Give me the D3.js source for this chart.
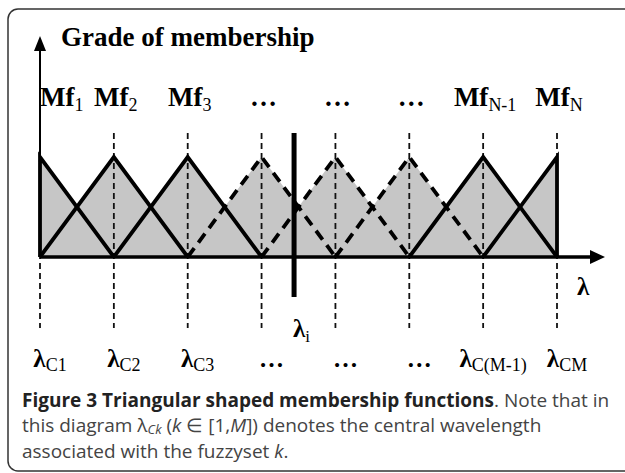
<!DOCTYPE html>
<html>
<head>
<meta charset="utf-8">
<script src="https://cdn.jsdelivr.net/npm/d3@7"></script>
<style>
  body { margin: 0; background: #fff; }
  svg text { font-family: "Liberation Serif", "Times New Roman", serif; }
  .cap { font-family: "Open Sans", sans-serif; }
</style>
</head>
<body>
<div id="chart"></div>
<script>
var width = 625;
var height = 473;

// membership functions, one per center wavelength
var mfNames = ["Mf", "Mf", "Mf", "…", "…", "…", "Mf", "Mf"];
var mfSubs = ["1", "2", "3", "", "", "", "N-1", "N"];
var centerNames = ["λ", "λ", "λ", "…", "…", "…", "λ", "λ"];
var centerSubs = ["C1", "C2", "C3", "", "", "", "C(M-1)", "CM"];
var lineStyle = ["solid", "solid", "solid", "dashed", "dashed", "dashed", "solid", "solid"];
var peakGrade = [1, 1, 1, 1, 1, 1, 1, 1];
var lambdaI = 3.44;   // position of the measured wavelength, in center units

var svg = d3.select("#chart")
            .append("svg")
            .attr("width", width)
            .attr("height", height);

var x = d3.scaleLinear().domain([0, mfNames.length - 1]).range([40, 557]);
var y = d3.scaleLinear().domain([0, 1]).range([257, 157]);

// frame
svg.append("rect")
   .attr("x", 8).attr("y", 9)
   .attr("width", 660).attr("height", 462)
   .attr("rx", 10)
   .attr("fill", "none")
   .attr("stroke", "#333")
   .attr("stroke-width", 1.5);

function tri(k, t) {
  var v = peakGrade[k] * (1 - Math.abs(t - k));
  return v > 0 ? v : 0;
}

// union of all triangles, filled gray
var pts = d3.range(0, mfNames.length - 0.5, 0.5).map(function(t) {
  return [t, d3.max(peakGrade, function(p, k) { return tri(k, t); })];
});
pts.push([mfNames.length - 1, 1]);
svg.append("path")
   .datum(pts)
   .attr("fill", "#c6c6c6")
   .attr("d", d3.area()
      .x(function(d) { return x(d[0]); })
      .y0(y(0))
      .y1(function(d) { return y(d[1]); }));

// thin dashed drop lines at each center
var grupo_centros = svg.append("g");
mfNames.forEach(function(n, k) {
  grupo_centros.append("line")
     .attr("x1", x(k)).attr("x2", x(k))
     .attr("y1", y(1.24)).attr("y2", y(-0.71))
     .attr("stroke", "#111")
     .attr("stroke-width", 1.8)
     .attr("stroke-dasharray", "6,4");
});

// triangle edges
var last = mfNames.length - 1;
var line = d3.line().x(function(d) { return x(d[0]); }).y(function(d) { return y(d[1]); });
var grupo_mf = svg.append("g");
peakGrade.forEach(function(p, k) {
  var tp;
  if (k == 0) tp = [[0, 0], [0, p], [1, 0]];
  else if (k == last) tp = [[last - 1, 0], [last, p], [last, 0]];
  else tp = [[k - 1, 0], [k, p], [k + 1, 0]];
  grupo_mf.append("path")
     .attr("d", line(tp))
     .attr("fill", "none")
     .attr("stroke", "#000")
     .attr("stroke-width", 3.8)
     .attr("stroke-linejoin", "miter")
     .attr("stroke-dasharray", lineStyle[k] == "dashed" ? "11,7" : null);
});

// axes
svg.append("line")
   .attr("x1", x(0)).attr("x2", 592)
   .attr("y1", y(0)).attr("y2", y(0))
   .attr("stroke", "#000").attr("stroke-width", 3.5);
svg.append("path")
   .attr("d", "M590," + (y(0) - 7) + "L605," + y(0) + "L590," + (y(0) + 7) + "Z")
   .attr("fill", "#000");
svg.append("line")
   .attr("x1", x(0)).attr("x2", x(0))
   .attr("y1", y(0)).attr("y2", 48)
   .attr("stroke", "#000").attr("stroke-width", 2);
svg.append("path")
   .attr("d", "M" + (x(0) - 6) + ",51L" + x(0) + ",36L" + (x(0) + 6) + ",51Z")
   .attr("fill", "#000");

// lambda_i marker
svg.append("line")
   .attr("x1", x(lambdaI)).attr("x2", x(lambdaI))
   .attr("y1", y(1.24)).attr("y2", y(-0.4))
   .attr("stroke", "#000").attr("stroke-width", 5);

// titles
svg.append("text")
   .attr("x", 61).attr("y", 46)
   .attr("font-size", 27).attr("font-weight", "bold")
   .text("Grade of membership");

function label(g, px, py, anchor, main, sub, size, subSize, shift) {
  var t = g.append("text")
     .attr("x", px).attr("y", py)
     .attr("text-anchor", anchor)
     .attr("font-size", size).attr("font-weight", "bold");
  t.append("tspan").text(main);
  if (sub) {
    t.append("tspan")
     .attr("dy", shift)
     .attr("font-size", subSize)
     .attr("font-weight", "normal")
     .text(sub);
  }
  return t;
}

var grupo_mf_text = svg.append("g");
mfNames.forEach(function(n, k) {
  if (k == 0) label(grupo_mf_text, x(k), 106, "start", n, mfSubs[k], 27, 18, 5);
  else label(grupo_mf_text, x(k) + 2, 106, "middle", n, mfSubs[k], 27, 18, 5);
});

var grupo_lambda_text = svg.append("g");
centerNames.forEach(function(n, k) {
  label(grupo_lambda_text, x(k) + 10, 367, "middle", n, centerSubs[k], 25, 18, 4);
});

label(svg, x(lambdaI) - 1, 337, "start", "λ", "i", 25, 17, 5);
label(svg, 577, 295, "start", "λ", "", 25, 17, 0);

// caption
var cap = svg.append("g").attr("class", "cap").attr("font-size", 19);
var l1 = cap.append("text").attr("class", "cap").attr("x", 22).attr("y", 407).attr("fill", "#444");
l1.append("tspan").attr("font-weight", "bold").attr("fill", "#222").text("Figure 3 Triangular shaped membership functions");
l1.append("tspan").text(". Note that in");

var l2 = cap.append("text").attr("class", "cap").attr("x", 22).attr("y", 432).attr("fill", "#444");
l2.append("tspan").text("this diagram λ");
l2.append("tspan").attr("font-style", "italic").attr("font-size", 13).attr("dy", 2).text("Ck");
l2.append("tspan").attr("dy", -2).text(" (");
l2.append("tspan").attr("font-style", "italic").text("k");
l2.append("tspan").text(" ∈  [1,");
l2.append("tspan").attr("font-style", "italic").text("M");
l2.append("tspan").text("]) denotes the central wavelength");

var l3 = cap.append("text").attr("class", "cap").attr("x", 22).attr("y", 458).attr("fill", "#444");
l3.append("tspan").text("associated with the fuzzyset ");
l3.append("tspan").attr("font-style", "italic").text("k");
l3.append("tspan").text(".");
</script>
</body>
</html>
